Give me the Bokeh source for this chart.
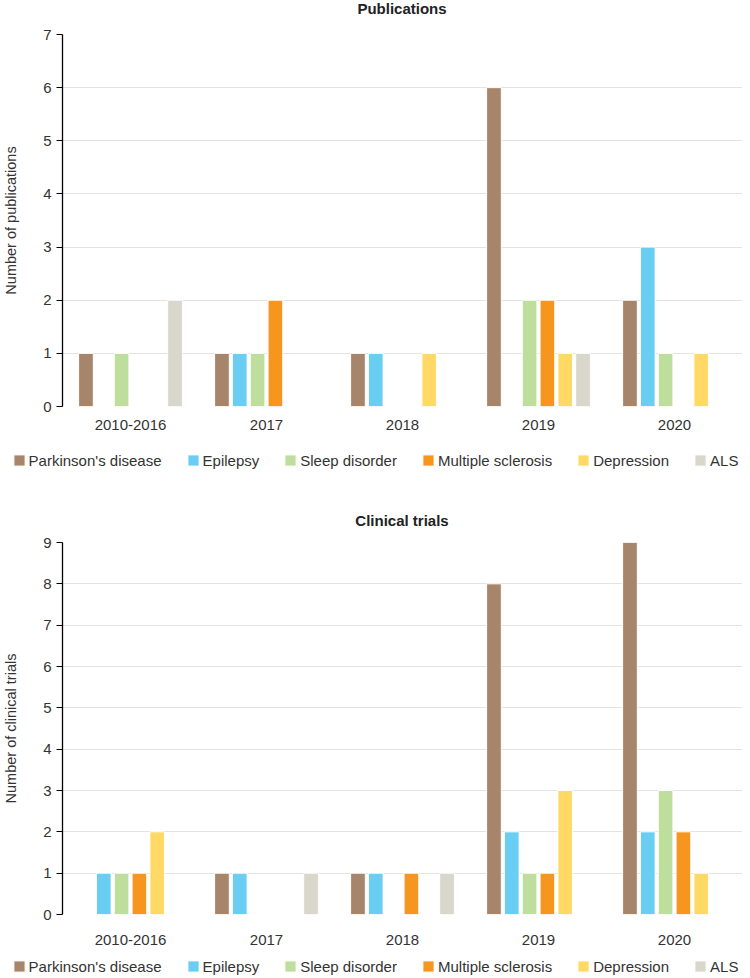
from bokeh.plotting import figure
from bokeh.models import (ColumnDataSource, Range1d, FactorRange, FixedTicker,
                          Legend, LegendItem, Label)
from bokeh.transform import dodge
from bokeh.layouts import column
from bokeh.embed import file_html
from bokeh.resources import INLINE

# ---------------- data ----------------
categories = ["2010-2016", "2017", "2018", "2019", "2020"]
diseases = ["Parkinson's disease", "Epilepsy", "Sleep disorder",
            "Multiple sclerosis", "Depression", "ALS"]
colors = ["#A6856A", "#69CEF2", "#BEDE9E", "#F7961F", "#FED966", "#D9D6CB"]

pub_parkinsons = [1, 1, 1, 6, 2]
pub_epilepsy = [0, 1, 1, 0, 3]
pub_sleep = [1, 1, 0, 2, 1]
pub_ms = [0, 2, 0, 2, 0]
pub_depression = [0, 0, 1, 1, 1]
pub_als = [2, 0, 0, 1, 0]

ct_parkinsons = [0, 1, 1, 8, 9]
ct_epilepsy = [1, 1, 1, 2, 2]
ct_sleep = [1, 0, 0, 1, 3]
ct_ms = [1, 0, 1, 1, 2]
ct_depression = [2, 0, 0, 3, 1]
ct_als = [0, 1, 1, 0, 0]

pub_ticks = [0, 1, 2, 3, 4, 5, 6, 7]
ct_ticks = [0, 1, 2, 3, 4, 5, 6, 7, 8, 9]

FONT = "Liberation Sans"
TXT = "#333333"
W = 742
LEFT = 61


def bare(height):
    p = figure(width=W, height=height, x_range=FactorRange(*categories),
               y_range=Range1d(-200, -199),
               output_backend="svg", toolbar_location=None, tools="",
               x_axis_location=None, y_axis_location=None,
               min_border_left=0, min_border_right=0, min_border_top=0, min_border_bottom=0)
    p.outline_line_color = None
    p.grid.visible = False
    return p


def header(text, height, center_from_top):
    p = bare(height)
    p.add_layout(Label(x=LEFT + (W - LEFT) / 2, y=height - center_from_top,
                       x_units="screen", y_units="screen", text=text,
                       text_align="center", text_baseline="middle",
                       text_font=FONT, text_font_size="15px", text_font_style="bold",
                       text_color="#222222"))
    return p


def legend_strip(series, height, top):
    # zero-width bars far outside the strip's y-range: they only serve as legend keys
    p = bare(height)
    items = []
    for name, col, vals in zip(diseases, colors, series):
        r = p.vbar(x=categories, top=vals, width=0, fill_color=col,
                   line_color="white", line_width=1)
        items.append(LegendItem(label=name, renderers=[r]))
    legend = Legend(items=items, orientation="horizontal",
                    location=(11.6, height - top - 18),
                    margin=0, padding=0, spacing=24,
                    glyph_width=14, glyph_height=14, label_height=18,
                    label_standoff=3,
                    label_text_font=FONT, label_text_font_size="15px",
                    label_text_color=TXT,
                    border_line_color=None, background_fill_alpha=0)
    p.add_layout(legend)
    return p


def make_chart(ylabel, series, ticks, height, border_top, border_bottom, xstandoff):
    p = figure(x_range=FactorRange(*categories), y_range=Range1d(ticks[0], ticks[-1]),
               width=W, height=height, output_backend="svg",
               toolbar_location=None, tools="",
               min_border_left=LEFT, min_border_right=0,
               min_border_top=border_top, min_border_bottom=border_bottom)

    step = 0.131
    for i, vals in enumerate(series):
        xs = [c for c, v in zip(categories, vals) if v != 0]
        ys = [v for v in vals if v != 0]
        src = ColumnDataSource(dict(cat=xs, val=ys))
        p.vbar(x=dodge("cat", (i - 2.5) * step, range=p.x_range), top="val",
               width=0.108, source=src, fill_color=colors[i],
               line_color="white", line_width=1)

    p.outline_line_color = None
    p.xgrid.grid_line_color = None
    p.ygrid.grid_line_color = "#E3E3E3"
    p.ygrid.grid_line_width = 1

    ya = p.yaxis[0]
    ya.ticker = FixedTicker(ticks=ticks)
    ya.axis_label = ylabel
    ya.axis_label_text_font = FONT
    ya.axis_label_text_font_size = "14.5px"
    ya.axis_label_text_font_style = "normal"
    ya.axis_label_text_color = TXT
    ya.axis_label_standoff = 21
    ya.axis_line_color = "black"
    ya.axis_line_width = 1.3
    ya.major_tick_line_color = "black"
    ya.major_tick_out = 6
    ya.major_tick_in = 0
    ya.minor_tick_line_color = None
    ya.major_label_text_font = FONT
    ya.major_label_text_font_size = "15px"
    ya.major_label_text_color = TXT
    ya.major_label_standoff = 5

    xa = p.xaxis[0]
    xa.axis_line_color = None
    xa.major_tick_line_color = None
    xa.minor_tick_line_color = None
    xa.major_tick_out = 0
    xa.major_tick_in = 0
    xa.major_label_text_font = FONT
    xa.major_label_text_font_size = "15px"
    xa.major_label_text_color = TXT
    xa.major_label_standoff = xstandoff
    return p


pub_series = [pub_parkinsons, pub_epilepsy, pub_sleep, pub_ms, pub_depression, pub_als]
ct_series = [ct_parkinsons, ct_epilepsy, ct_sleep, ct_ms, ct_depression, ct_als]

head1 = header("Publications", 18, 8)
p1 = make_chart("Number of publications", pub_series, pub_ticks,
                height=428, border_top=16, border_bottom=40, xstandoff=13)
leg1 = legend_strip(pub_series, 30, 5)
head2 = header("Clinical trials", 54, 44)
p2 = make_chart("Number of clinical trials", ct_series, ct_ticks,
                height=424, border_top=12, border_bottom=40, xstandoff=20)
leg2 = legend_strip(ct_series, 22, 3)

layout = column(*[column(c) for c in (head1, p1, leg1, head2, p2, leg2)], spacing=0)
open("out.html", "w").write(file_html(layout, INLINE))
